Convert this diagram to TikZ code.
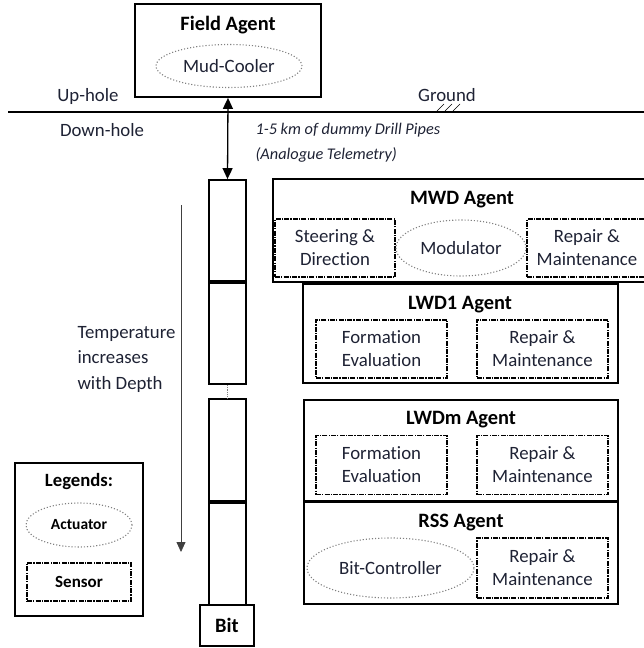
\documentclass[tikz,border=0pt]{standalone}
\usepackage{fontspec}
\setmainfont[RawFeature={-liga;-clig;-dlig;-calt}]{Carlito}
\usetikzlibrary{arrows.meta,shapes.geometric}
\definecolor{txt}{RGB}{30,34,52}
\tikzstyle{agent} = [draw,line width=1.8pt,inner sep=0pt]
\tikzstyle{title} = [font=\fontsize{20.4}{24}\selectfont\bfseries,text=black]
\tikzstyle{sensor} = [draw,line width=1.4pt,dash pattern=on 5pt off 1.2pt on 1.2pt off 1.2pt,align=center,inner sep=0pt,text=txt,font=\fontsize{18.8}{23}\selectfont]
\tikzstyle{actuator} = [draw=gray,dotted,line width=1.1pt,ellipse,inner sep=0pt,text=txt,font=\fontsize{18.8}{23}\selectfont]
\tikzstyle{pipe} = [draw,line width=1.8pt,minimum width=37pt,inner sep=0pt]
\tikzstyle{lbl} = [text=txt,font=\fontsize{18.8}{23}\selectfont]
\tikzstyle{arrow} = [line width=1.3pt,{Triangle[length=11pt,width=10pt]}-{Triangle[length=11pt,width=10pt]}]

\begin{document}
\begin{tikzpicture}[x=1pt,y=-1pt]
\useasboundingbox (0,0) rectangle (644,648);
\node[agent,minimum width=186pt,minimum height=93pt] (field) at (228,50.5) {};
\node[title] (fieldt) at (228,25) {Field Agent};
\node[actuator,minimum width=146pt,minimum height=43pt] (mud) at (229,66) {Mud-Cooler};
\coordinate (gl) at (8,112);
\coordinate (gr) at (650,112);
\draw[line width=1.4pt] (gl) -- (gr);
\node[lbl] (up) at (88,96) {Up-hole};
\node[lbl] (down) at (102,130) {Down-hole};
\node[lbl] (ground) at (447,95) {Ground};
\foreach \x in {437,445,453} \draw[thin] (\x,111) -- (\x+7,104);
\node[pipe,minimum height=101pt] (p1) at (227.5,230.5) {};
\node[pipe,minimum height=103pt] (p2) at (227.5,332.5) {};
\node[pipe,minimum height=102pt] (p3) at (227.5,450) {};
\node[pipe,minimum height=104pt] (p4) at (227.5,553) {};
\node[agent,minimum width=54pt,minimum height=41pt,title] (bit) at (227,625.5) {Bit};
\draw[line width=4pt] (p1.south west) -- (p1.south east);
\draw[line width=4pt] (p3.south west) -- (p3.south east);
\draw[gray,densely dotted,thick] (p2.south) -- (p3.north);
\draw[arrow] (field.south) -- (p1.north);
\node[lbl,anchor=west,font=\fontsize{16.3}{20}\selectfont\itshape] (tel1) at (252,130) {1-5 km of dummy Drill Pipes};
\node[lbl,anchor=west,font=\fontsize{16.3}{20}\selectfont\itshape] (tel2) at (252,155) {(Analogue Telemetry)};
\node[agent,minimum width=375pt,minimum height=103pt] (mwd) at (460.5,230.5) {};
\node[title] (mwdt) at (462,200) {MWD Agent};
\node[sensor,minimum width=120pt,minimum height=58pt] (steer) at (335,248) {Steering \&\\Direction};
\node[actuator,minimum width=130pt,minimum height=56pt] (modu) at (461,248) {Modulator};
\node[sensor,minimum width=120pt,minimum height=58pt] (rep1) at (587,248) {Repair \&\\Maintenance};
\node[agent,minimum width=315pt,minimum height=99pt] (lwd1) at (460.5,333.5) {};
\node[title] (lwd1t) at (460,305) {LWD1 Agent};
\node[sensor,minimum width=131pt,minimum height=58pt] (form1) at (381.5,349) {Formation\\Evaluation};
\node[sensor,minimum width=131pt,minimum height=58pt] (rep2) at (542.5,349) {Repair \&\\Maintenance};
\node[agent,minimum width=314pt,minimum height=101pt] (lwdm) at (461,450.5) {};
\node[title] (lwdmt) at (461,420) {LWDm Agent};
\node[sensor,minimum width=131pt,minimum height=59pt] (form2) at (381.5,465) {Formation\\Evaluation};
\node[sensor,minimum width=131pt,minimum height=59pt] (rep3) at (542.5,465) {Repair \&\\Maintenance};
\node[agent,minimum width=314pt,minimum height=103pt] (rss) at (461,552.5) {};
\node[title] (rsst) at (461,523) {RSS Agent};
\node[actuator,minimum width=167pt,minimum height=60pt] (bitc) at (390.5,568) {Bit-Controller};
\node[sensor,minimum width=131pt,minimum height=60pt] (rep4) at (542.5,568) {Repair \&\\Maintenance};
\draw[line width=3pt] (lwdm.south west) -- (lwdm.south east);
\coordinate (ttop) at (181,205);
\coordinate (tbot) at (181,552);
\draw[darkgray,thick,-{Triangle[length=10pt,width=9pt]}] (ttop) -- (tbot);
\node[lbl,anchor=west,align=left,font=\fontsize{18.8}{25.5}\selectfont] (temp) at (74,359) {Temperature\\increases\\with Depth};
\node[agent,minimum width=128pt,minimum height=153pt] (legend) at (79,539.5) {};
\node[title,font=\fontsize{18.7}{22}\selectfont\bfseries] (legt) at (79,482) {Legends:};
\node[actuator,minimum width=106pt,minimum height=44pt,text=black,font=\fontsize{15.5}{18}\selectfont\bfseries] (act) at (79,525) {Actuator};
\node[sensor,minimum width=104pt,minimum height=38pt,text=black,font=\fontsize{17}{20}\selectfont\bfseries] (sens) at (79,582) {Sensor};
\end{tikzpicture}
\end{document}
